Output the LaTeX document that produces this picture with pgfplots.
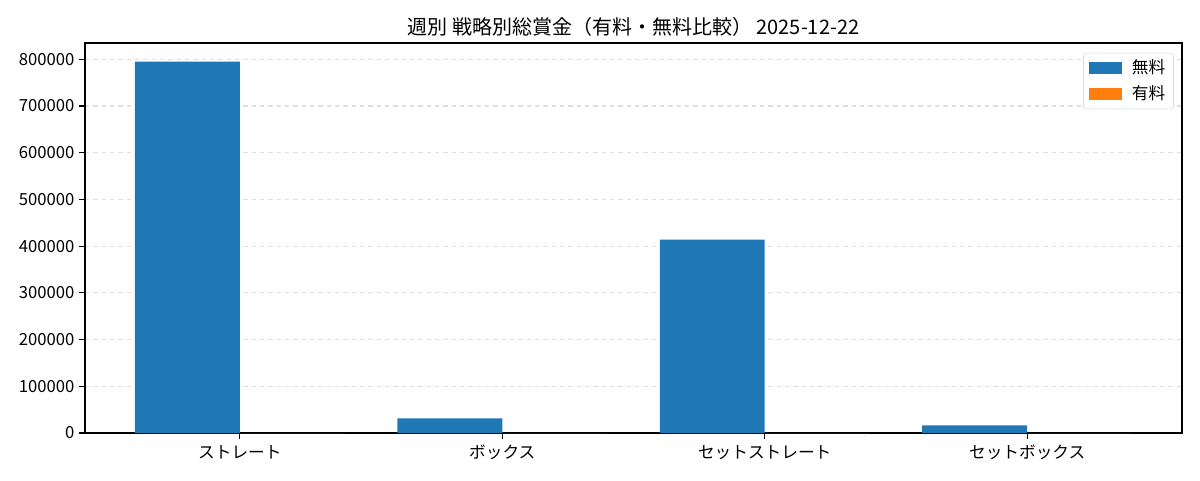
\documentclass[border=0pt]{standalone}
\usepackage{pgfplots}
\pgfplotsset{compat=1.18}
\usepackage{fontspec}
\setmainfont{Noto Sans CJK JP}
\definecolor{c0}{HTML}{1F77B4}
\definecolor{c1}{HTML}{FF7F0E}
\begin{document}
\begin{tikzpicture}
\begin{axis}[
  scale only axis,
  width=789.8pt, height=280.8pt,
  xmin=-0.59, xmax=3.59,
  ymin=0, ymax=834750,
  xtick={0,1,2,3},
  xticklabels={ストレート,ボックス,セットストレート,セットボックス},
  ytick={0,100000,200000,300000,400000,500000,600000,700000,800000},
  xtick pos=bottom, ytick pos=left,
  scaled y ticks=false,
  /pgf/number format/fixed,
  /pgf/number format/1000 sep={},
  /pgf/number format/assume math mode=true,
  tick label style={font=\fontsize{12}{14}\selectfont, black},
  xticklabel style={yshift=-1pt},
  tick align=outside,
  major tick length=4.2pt,
  tick style={black, line width=0.9pt},
  axis line style={black, line width=0.9pt},
  ymajorgrids,
  grid style={dashed, gray!25, line width=0.8pt},
  title={週別 戦略別総賞金（有料・無料比較） 2025-12-22},
  title style={font=\fontsize{14.4}{16}\selectfont, at={(0.5,1)}, anchor=south, yshift=-4.5pt},
  legend style={at={(0.9925,0.975)}, anchor=north east, draw=gray!30, rounded corners=2pt,
    font=\fontsize{12}{14}\selectfont, row sep=3pt, inner xsep=4pt, inner ysep=3pt},
  legend cell align=left,
  legend image code/.code={\fill[#1, draw=none, sharp corners] (0pt,-4.2pt) rectangle (23.8pt,4.2pt);},
]
\addplot[ybar, bar width=0.4, bar shift=-0.2, fill=c0, draw=none] coordinates {(0,795000) (1,31500) (2,414000) (3,16500)};
\addlegendentry{\hspace{5pt}無料}
\addplot[ybar, bar width=0.4, bar shift=0.2, fill=c1, draw=none] coordinates {(0,0) (1,0) (2,0) (3,0)};
\addlegendentry{\hspace{5pt}有料}
\end{axis}
\path (-61.2pt,-33.84pt) rectangle (802.76pt,311.76pt);
\end{tikzpicture}
\end{document}
